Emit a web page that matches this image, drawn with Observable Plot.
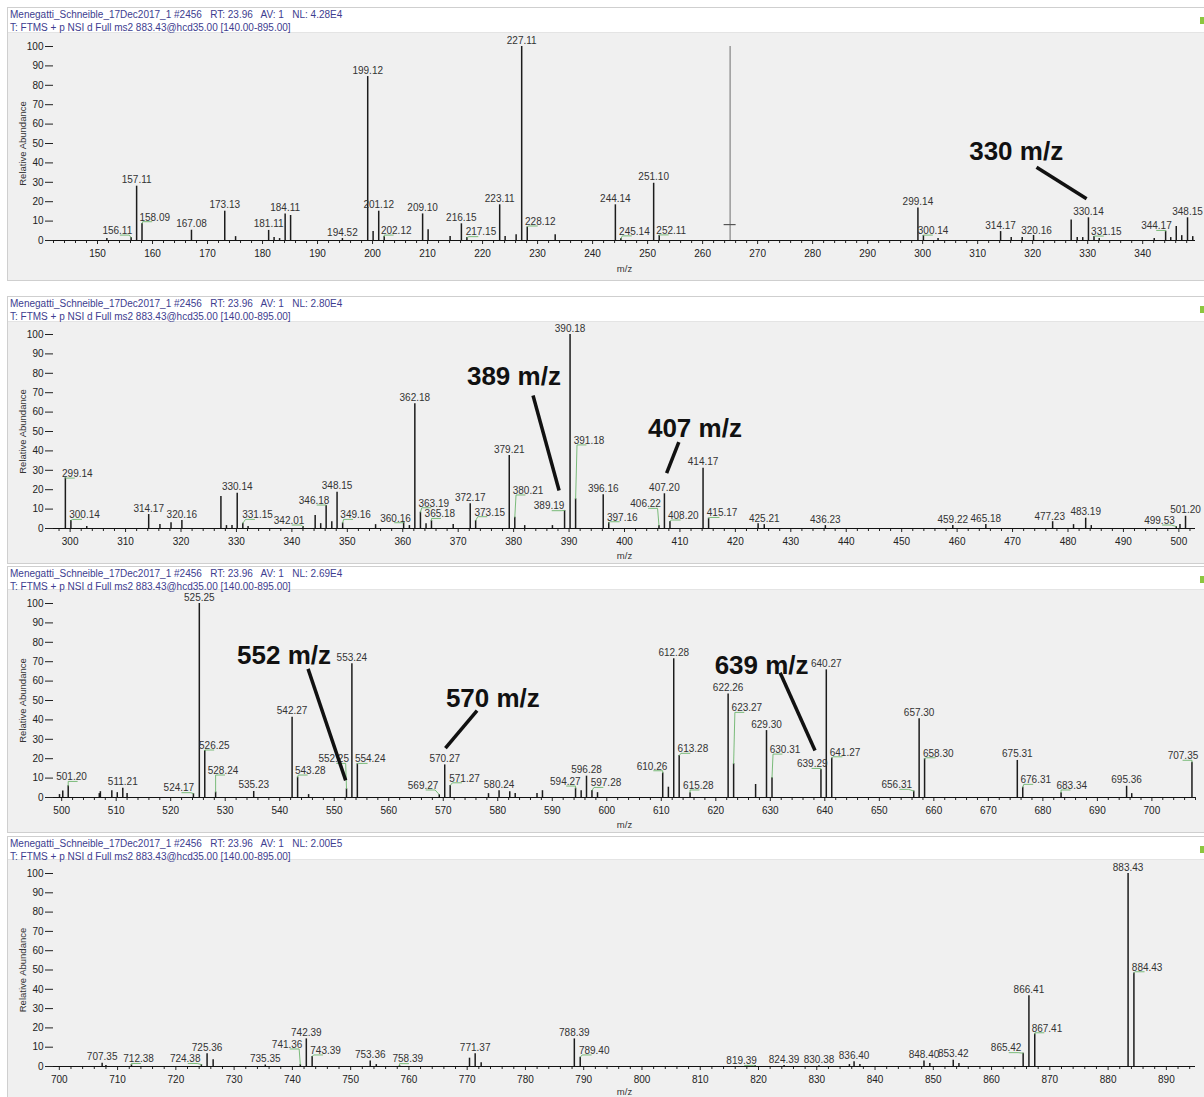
<!DOCTYPE html>
<html>
<head>
<meta charset="utf-8">
<script src="https://cdn.jsdelivr.net/npm/d3@7"></script>
<script src="https://cdn.jsdelivr.net/npm/@observablehq/plot@0.6"></script>
<style>
  html, body { margin: 0; padding: 0; background: #fff; }
  body { position: relative; width: 1204px; height: 1097px; overflow: hidden; font-family: "Liberation Sans", Arial, sans-serif; }
  .frame { position: absolute; left: 7px; width: 1210px; box-sizing: border-box; border: 1px solid #cfcfcf; background: #f0f0f0; }
  .head { position: absolute; left: 0; top: 0; right: 0; background: #fff; border-bottom: 1px solid #e4e4e4; }
  .head div { position: absolute; left: 2px; font-size: 10px; line-height: 11px; color: #3d3d8f; white-space: pre; }
  .flag { position: absolute; left: 1200px; width: 6px; height: 7px; background: #8cc63f; }
  svg.spec { position: absolute; left: 0; }
</style>
</head>
<body>
<script>
// ---- scan header ----
const RUN = "Menegatti_Schneible_17Dec2017_1 #2456";
const RT = "23.96";
const AV = "1";
const NL = ["4.28E4", "2.80E4", "2.69E4", "2.00E5"];
const FILTER = "T: FTMS + p NSI d Full ms2 883.43@hcd35.00 [140.00-895.00]";

// ---- m/z window shown in each of the four zoomed panels ----
const RANGES = [[142, 349.6], [297, 503], [498.5, 708], [699, 895]];
const Y_TICKS = [0, 10, 20, 30, 40, 50, 60, 70, 80, 90, 100];

// ---- centroid peaks: [m/z, relative abundance %, labelled (1) or not (0)] ----
const P1 = [[151.7,1.0,0],[156.11,1.5,1],[157.11,28.0,1],[158.09,8.7,1],[167.08,5.3,1],[173.13,15.1,1],[175.1,2.0,0],
  [181.11,5.2,1],[182.1,1.5,0],[183.1,1.0,0],[184.11,13.7,1],[185.1,12.9,0],[194.52,1.0,1],[199.12,84.5,1],[200.1,4.6,0],
  [201.12,15.1,1],[202.12,2.0,1],[209.10,13.7,1],[210.1,5.5,0],[214.1,2.0,0],[216.15,8.6,1],[217.15,1.5,1],[223.11,18.4,1],
  [224.1,2.0,0],[226.1,3.0,0],[227.11,100,1],[228.12,6.9,1],[233.2,2.9,0],[244.14,18.4,1],[245.14,1.0,1],[251.10,29.5,1],
  [252.11,2.6,1],[299.14,16.8,1],[300.14,2.6,1],[302.8,1.0,0],[314.17,4.6,1],[316.1,1.5,0],[318.1,1.5,0],[320.16,2.6,1],
  [327.0,10.6,0],[328.1,1.5,0],[329.1,1.5,0],[330.14,11.7,1],[331.15,2.0,1],[332.1,1.0,0],[342.1,1.0,0],[344.17,4.8,1],
  [345.1,1.5,0],[346.1,7.2,0],[347.1,2.5,0],[348.15,11.7,1],[349.1,2.0,0]];
const P2 = [[299.14,26.1,1],[300.14,4.1,1],[303.0,1.0,0],[314.17,7.2,1],[316.2,2.0,0],[318.2,3.0,0],[320.16,4.1,1],
  [327.2,16.5,0],[328.2,1.5,0],[329.2,1.5,0],[330.14,18.2,1],[331.15,2.7,1],[332.1,1.0,0],[342.01,1.0,1],[344.2,6.7,0],
  [345.2,2.5,0],[346.18,11.9,1],[347.2,3.5,0],[348.15,18.7,1],[349.16,2.9,1],[355.1,2.0,0],[360.16,3.3,1],[361.2,1.5,0],
  [362.18,64.3,1],[363.19,8.4,1],[364.2,2.5,0],[365.18,4.1,1],[369.1,2.0,0],[372.17,12.7,1],[373.15,4.1,1],[379.21,37.6,1],
  [380.21,5.8,1],[382.0,1.5,0],[387.0,1.5,0],[389.19,9.3,1],[390.18,100,1],[391.18,15.3,1],[396.16,17.4,1],[397.16,2.9,1],
  [406.22,1.5,1],[407.20,17.9,1],[408.20,3.6,1],[414.17,31.1,1],[415.17,5.3,1],[424.1,2.5,0],[425.21,2.0,1],[436.23,1.5,1],
  [459.22,1.5,1],[465.18,2.0,1],[477.23,3.5,1],[481.0,2.0,0],[483.19,5.3,1],[484.2,1.5,0],[499.53,1.0,1],[500.2,2.0,0],
  [501.20,6.3,1]];
const P3 = [[499.6,1.5,0],[500.2,3.3,0],[501.20,6.0,1],[506.9,2.0,0],[507.1,3.0,0],[509.2,3.5,0],[510.2,2.5,0],[511.21,4.8,1],
  [512.0,2.0,0],[524.17,2.0,1],[525.25,100,1],[526.25,24.2,1],[528.24,2.8,1],[535.23,3.1,1],[542.27,41.4,1],[543.28,10.5,1],
  [545.3,1.5,0],[552.25,4.5,1],[553.24,68.9,1],[554.24,17.4,1],[569.27,1.5,1],[570.27,16.8,1],[571.27,6.2,1],[578.3,2.0,0],
  [580.24,3.5,1],[582.2,3.0,0],[583.2,2.0,0],[587.2,2.0,0],[588.2,3.5,0],[594.27,4.8,1],[595.3,3.5,0],[596.28,11.0,1],
  [597.28,3.6,1],[598.3,2.5,0],[610.26,12.7,1],[611.3,5.3,0],[612.28,71.5,1],[613.28,21.6,1],[615.28,2.5,1],[622.26,53.4,1],
  [623.27,17.4,1],[627.3,6.7,0],[629.30,34.5,1],[630.31,10.2,1],[639.29,14.4,1],[640.27,65.8,1],[641.27,20.3,1],
  [656.31,3.3,1],[657.30,40.6,1],[658.30,19.9,1],[675.31,19.1,1],[676.31,5.3,1],[683.34,2.5,1],[695.36,5.8,1],
  [696.3,2.0,0],[707.35,18.2,1]];
const P4 = [[707.35,1.7,1],[708.0,0.5,0],[712.38,1.0,1],[724.38,1.0,1],[725.36,6.6,1],[726.4,3.5,0],[735.35,0.8,1],
  [741.36,1.0,1],[742.39,14.3,1],[743.39,5.2,1],[753.36,2.8,1],[754.4,1.0,0],[758.39,0.5,1],[770.4,4.3,0],[771.37,6.6,1],
  [772.4,2.0,0],[788.39,14.3,1],[789.40,4.8,1],[819.39,0.5,1],[824.39,0.5,1],[830.38,0.4,1],[835.6,1.0,0],[836.40,2.5,1],
  [837.4,1.0,0],[848.40,2.8,1],[849.4,1.5,0],[853.42,3.3,1],[854.4,1.5,0],[865.42,6.9,1],[866.41,36.7,1],[867.41,16.9,1],
  [883.43,100,1],[884.43,48.5,1]];

// ---- peak labels pushed aside to avoid collisions: [peak m/z, label m/z, label baseline %] ----
const M1 = [[156.11,153.6,3.4],[158.09,160.4,10.3],[202.12,204.3,3.4],[217.15,219.7,2.6],[228.12,230.5,8.1],
  [245.14,247.6,3.0],[252.11,254.3,3.5],[300.14,301.9,3.4],[320.16,320.7,3.6],[331.15,333.4,2.9],[344.17,342.5,5.8]];
const M2 = [[299.14,301.3,26.6],[300.14,302.6,5.3],[331.15,333.8,5.3],[342.01,339.5,2.4],[346.18,344.0,12.7],
  [349.16,351.5,5.3],[360.16,358.7,3.6],[363.19,365.6,11.3],[365.18,366.7,5.8],[373.15,375.7,6.7],[380.21,382.6,17.9],
  [389.19,386.4,9.8],[391.18,393.6,43.7],[397.16,399.6,4.1],[406.22,403.8,11.0],[408.20,410.6,5.0],[415.17,417.6,6.3],
  [477.23,476.7,4.6],[499.53,496.5,2.4]];
const M3 = [[501.20,501.8,8.9],[524.17,521.5,3.1],[526.25,528.0,25.1],[528.24,529.6,12.2],[543.28,545.6,12.2],
  [552.25,549.9,18.2],[554.24,556.6,18.2],[569.27,566.3,4.5],[571.27,573.9,8.2],[594.27,592.4,6.5],[597.28,599.85,5.8],
  [610.26,608.3,14.4],[613.28,615.8,23.4],[615.28,616.8,4.5],[623.27,625.7,44.5],[630.31,632.7,23.0],[639.29,637.7,15.6],
  [641.27,643.7,21.6],[656.31,653.2,4.8],[658.30,660.8,21.1],[676.31,678.7,7.4],[683.34,685.3,4.5],[707.35,705.7,19.8]];
const M4 = [[712.38,713.6,2.2],[724.38,721.6,2.2],[741.36,739.1,9.7],[743.39,745.7,6.6],[758.39,759.8,2.1],
  [789.40,791.8,6.6],[819.39,817.1,1.2],[865.42,862.5,7.8],[867.41,869.5,18.1],[884.43,886.7,49.7]];

// ---- hand annotations: [text, text m/z, text %, arrow from m/z, from %, to m/z, to %] ----
const N1 = [["330 m/z", 317.0, 45.9, 320.7, 37.8, 329.8, 21.5]];
const N2 = [["389 m/z", 380.05, 78.4, 383.5, 68.6, 388.2, 19.6], ["407 m/z", 412.7, 51.5, 409.8, 44.5, 407.6, 28.5]];
const N3 = [["552 m/z", 540.8, 73.2, 545.2, 66.3, 552.1, 8.8], ["570 m/z", 579.1, 51.0, 576.2, 44.8, 570.4, 25.4],
  ["639 m/z", 628.4, 68.0, 631.8, 64.3, 638.2, 24.2]];
const N4 = [];

// ---- cursor mark left on the first panel: [m/z, crossbar %] ----
const CURSOR1 = [265.0, 8.2];

const PEAKS = [P1, P2, P3, P4];
const MOVED = [M1, M2, M3, M4];
const NOTES = [N1, N2, N3, N4];

// page layout of the four stacked panels
const FRAMES = [
  {top: 7, gray: 33, y100: 46, y0: 240, bottom: 281, mzDy: 28},
  {top: 296, gray: 322, y100: 334, y0: 528, bottom: 564, mzDy: 27},
  {top: 566, gray: 590, y100: 603, y0: 797, bottom: 833, mzDy: 27},
  {top: 836, gray: 860, y100: 873, y0: 1066, bottom: 1100, mzDy: 25}
];
const W = 1204, XL = 53, XR = 1195;
const FONT = '"Liberation Sans", Arial, sans-serif';

function frame(i) {
  const f = FRAMES[i];
  const box = document.createElement("div");
  box.className = "frame";
  box.style.top = f.top + "px";
  box.style.height = (f.bottom - f.top) + "px";
  const head = document.createElement("div");
  head.className = "head";
  head.style.height = (f.gray - f.top - 2) + "px";
  const l1 = document.createElement("div");
  l1.style.top = "1px";
  l1.textContent = `${RUN}   RT: ${RT}   AV: ${AV}   NL: ${NL[i]}`;
  const l2 = document.createElement("div");
  l2.style.top = "14px";
  l2.textContent = FILTER;
  head.append(l1, l2);
  box.append(head);
  document.body.append(box);
  const flag = document.createElement("div");
  flag.className = "flag";
  flag.style.top = (f.top + 10) + "px";
  document.body.append(flag);
}

function spectrum(i) {
  const f = FRAMES[i], dom = RANGES[i];
  const uPerPx = (dom[1] - dom[0]) / (XR - XL);
  const vPerPx = 100 / (f.y0 - f.y100);
  const peaks = PEAKS[i].map(([mz, ab, lab]) => ({mz, ab, lab}));
  const moved = new Map(MOVED[i].map(([mz, lx, ly]) => [mz, {lx, ly}]));
  const labelled = peaks.filter(d => d.lab);
  const above = labelled.filter(d => !moved.has(d.mz));
  const shifted = labelled.filter(d => moved.has(d.mz)).map(d => ({...d, ...moved.get(d.mz)}));

  // green leader: peak top -> near corner of the label -> short underline
  const leaders = shifted.filter(d => d.ly - d.ab > 2.5 * vPerPx || Math.abs(d.mz - d.lx) > 6 * uPerPx).flatMap((d, k) => {
    const side = Math.sign(d.mz - d.lx);
    const corner = d.lx + side * Math.min(Math.abs(d.mz - d.lx), 12 * uPerPx);
    const yU = d.ly - 1.2 * vPerPx;
    const pts = [{id: k, x: d.mz, y: d.ab}, {id: k, x: corner, y: yU}];
    if (side !== 0) pts.push({id: k, x: corner - side * 9 * uPerPx, y: yU});
    return pts;
  });

  const notes = NOTES[i].map(([t, x, y, ax1, ay1, ax2, ay2]) => ({t, x, y, ax1, ay1, ax2, ay2}));
  const major = d3.range(Math.ceil(dom[0] / 10) * 10, dom[1] + 1e-9, 10);
  const minor = d3.range(Math.ceil(dom[0] / 2) * 2, dom[1] + 1e-9, 2).filter(v => v % 10 !== 0);
  const fmt = d => d.toFixed(2);

  const marks = [
    Plot.axisY({ticks: Y_TICKS, tickSize: 8, tickPadding: 2, label: null, fontSize: 10}),
    Plot.axisX({ticks: minor, tickSize: 3, tickFormat: () => "", label: null}),
    Plot.axisX({ticks: major, tickSize: 4, tickPadding: 5, label: null, fontSize: 10, tickFormat: d3.format("d")}),
    Plot.ruleY([0], {stroke: "#111", strokeWidth: 1.2}),
  ];
  if (i === 0) {
    marks.push(
      Plot.ruleX([CURSOR1[0]], {stroke: "#8c8c8c", strokeWidth: 1.3}),
      Plot.ruleY([CURSOR1[1]], {x1: CURSOR1[0] - 6 * uPerPx, x2: CURSOR1[0] + 6 * uPerPx, stroke: "#555", strokeWidth: 1.2})
    );
  }
  marks.push(
    Plot.ruleX(peaks, {x: "mz", y1: 0, y2: "ab", stroke: "#1c1c1c", strokeWidth: 1.5}),
    Plot.line(leaders, {x: "x", y: "y", z: "id", stroke: "#6cb46c", strokeWidth: 0.9}),
    Plot.text(above, {x: "mz", y: "ab", text: d => fmt(d.mz), lineAnchor: "bottom", dy: -3, fontSize: 10, fill: "#333"}),
    Plot.text(shifted, {x: "lx", y: "ly", text: d => fmt(d.mz), lineAnchor: "bottom", dy: 0, fontSize: 10, fill: "#333"}),
    Plot.link(notes, {x1: "ax1", y1: "ay1", x2: "ax2", y2: "ay2", stroke: "#111", strokeWidth: 3.5}),
    Plot.text(notes, {x: "x", y: "y", text: "t", fontSize: 26, fontWeight: "bold", fill: "#111", lineAnchor: "middle"}),
    Plot.text(["m/z"], {frameAnchor: "bottom", textAnchor: "middle", lineAnchor: "middle", dy: f.mzDy, fontSize: 9.5, fill: "#333"}),
    Plot.text(["Relative Abundance"], {frameAnchor: "left", textAnchor: "middle", lineAnchor: "middle", dx: -31, rotate: -90, fontSize: 9.5, fill: "#333"})
  );

  const svg = Plot.plot({
    width: W,
    height: f.bottom - f.gray - 1,
    marginLeft: XL,
    marginRight: W - XR,
    marginTop: f.y100 - f.gray,
    marginBottom: f.bottom - 1 - f.y0,
    x: {domain: dom},
    y: {domain: [0, 100]},
    style: {background: "transparent", fontFamily: FONT, fontSize: "9.5px", color: "#222", overflow: "visible"},
    marks
  });
  svg.classList.add("spec");
  svg.style.top = f.gray + "px";
  document.body.append(svg);
}

for (let i = 0; i < 4; i++) frame(i);
for (let i = 0; i < 4; i++) spectrum(i);
</script>
</body>
</html>
